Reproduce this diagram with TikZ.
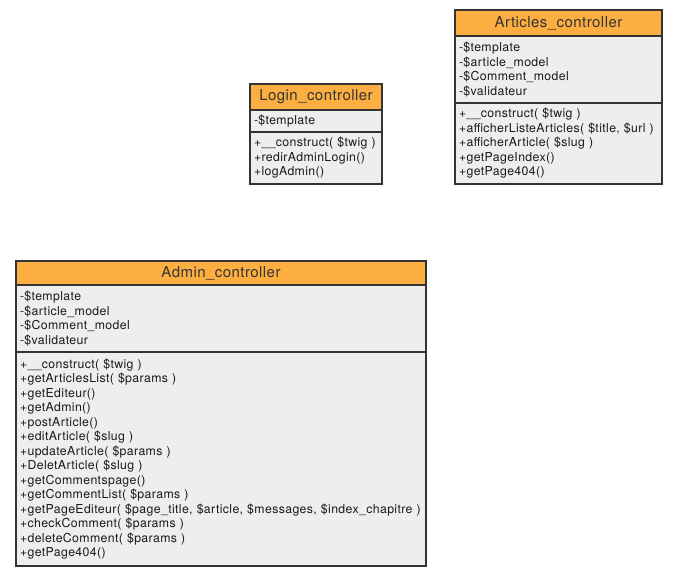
\documentclass[tikz,border=0pt]{standalone}
\usepackage{fontspec}
\setmainfont{TeX Gyre Heros}[LetterSpace=3]
\definecolor{headorange}{HTML}{FCAE40}
\definecolor{partgray}{HTML}{EEEEEC}
\definecolor{linegray}{HTML}{333333}
\tikzset{
  head/.style={draw=linegray, line width=1.5pt, fill=headorange, anchor=north west, outer sep=0, inner sep=0, text=black!80, font=\fontsize{15}{17}\selectfont},
  part/.style={draw=linegray, line width=1.5pt, fill=partgray, anchor=north west, outer sep=0, inner xsep=4pt, inner ysep=0, align=left, text=black!90, font=\fontsize{12.3}{14.5}\selectfont}
}
\begin{document}
\begin{tikzpicture}[x=1pt, y=-1pt]
\useasboundingbox (0,0) rectangle (677,575);

% Login_controller
\node [head, minimum width=132pt, minimum height=26pt] (login) at (250,84) {Login\_controller};
\node [part, text width=124pt, minimum height=22pt] (loginattr) at (login.south west) {-\$template};
\node [part, text width=124pt, minimum height=52pt] (loginop) at (loginattr.south west) {+\_\_construct( \$twig )\\+redirAdminLogin()\\+logAdmin()};

% Articles_controller
\node [head, minimum width=207pt, minimum height=26pt] (articles) at (455,10) {Articles\_controller};
\node [part, text width=199pt, minimum height=67pt] (articlesattr) at (articles.south west) {-\$template\\-\$article\_model\\-\$Comment\_model\\-\$validateur};
\node [part, text width=199pt, minimum height=81pt] (articlesop) at (articlesattr.south west) {+\_\_construct( \$twig )\\+afficherListeArticles( \$title, \$url )\\+afficherArticle( \$slug )\\+getPageIndex()\\+getPage404()};

% Admin_controller
\node [head, minimum width=410pt, minimum height=24pt] (admin) at (16,261) {Admin\_controller};
\node [part, text width=402pt, minimum height=67pt] (adminattr) at (admin.south west) {-\$template\\-\$article\_model\\-\$Comment\_model\\-\$validateur};
\node [part, text width=402pt, minimum height=214pt] (adminop) at (adminattr.south west) {+\_\_construct( \$twig )\\+getArticlesList( \$params )\\+getEditeur()\\+getAdmin()\\+postArticle()\\+editArticle( \$slug )\\+updateArticle( \$params )\\+DeletArticle( \$slug )\\+getCommentspage()\\+getCommentList( \$params )\\+getPageEditeur( \$page\_title, \$article, \$messages, \$index\_chapitre )\\+checkComment( \$params )\\+deleteComment( \$params )\\+getPage404()};

\end{tikzpicture}
\end{document}
